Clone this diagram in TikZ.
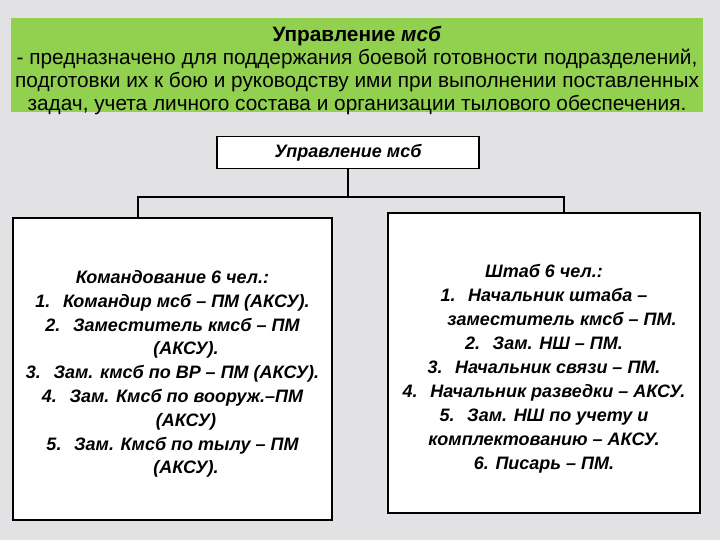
\documentclass[tikz,border=0pt]{standalone}
\usepackage{fontspec}
\setmainfont{Liberation Sans}
\usetikzlibrary{positioning}
\definecolor{HeadGreen}{RGB}{146, 208, 80}
\definecolor{MarbleBg}{RGB}{226, 226, 229}

\begin{document}
\begin{tikzpicture}[x=1pt, y=1pt, line width=1.6pt]
      % Background
      \fill[MarbleBg] (0,0) rectangle (720,-540);
      \useasboundingbox (0,0) rectangle (720,-540);

      % Nodes
      \node[fill=HeadGreen, minimum width=692pt, minimum height=94pt, inner sep=0pt, text depth=0pt, align=center, font=\fontsize{20.8}{23.2}\selectfont] (head) at (357,-65) {
        \rule{0pt}{22pt}\textbf{Управление \textit{мсб}}\\
        - предназначено для поддержания боевой готовности подразделений,\\
        подготовки их к бою и руководству ими при выполнении поставленных\\
        задач, учета личного состава и организации тылового обеспечения.
      };

      \node[draw, fill=white, minimum width=262pt, minimum height=32pt, inner sep=0pt, below=23pt of head, xshift=-9pt, font=\bfseries\itshape\fontsize{18}{20}\selectfont] (upr) {Управление мсб};

      \node[draw, fill=white, minimum width=319pt, minimum height=302pt, inner sep=0pt, align=center, font=\bfseries\itshape\fontsize{18}{23.8}\selectfont] (komand) at (172.5,-369) {
        \rule{0pt}{23pt}Командование 6 чел.:\\
        1.\hspace{0.7em}Командир мсб – ПМ (АКСУ).\\
        2.\hspace{0.7em}Заместитель кмсб – ПМ\\
        \hspace{1.5em}(АКСУ).\\
        3.\hspace{0.7em}Зам. кмсб по ВР – ПМ (АКСУ).\\
        4.\hspace{0.7em}Зам. Кмсб по вооруж.–ПМ\\
        \hspace{1.5em}(АКСУ)\\
        5.\hspace{0.7em}Зам. Кмсб по тылу – ПМ\\
        \hspace{1.5em}(АКСУ).
      };

      \node[draw, fill=white, minimum width=312pt, minimum height=300pt, inner sep=0pt, align=center, font=\bfseries\itshape\fontsize{18}{24}\selectfont] (shtab) at (544,-363) {
        \rule{0pt}{25pt}Штаб 6 чел.:\\
        1.\hspace{0.7em}Начальник штаба –\hspace{2.5em}\\
        \hspace{2em}заместитель кмсб – ПМ.\\
        2.\hspace{0.7em}Зам. НШ – ПМ.\\
        3.\hspace{0.7em}Начальник связи – ПМ.\\
        4.\hspace{0.7em}Начальник разведки – АКСУ.\\
        5.\hspace{0.7em}Зам. НШ по учету и\\
        комплектованию – АКСУ.\\
        6. Писарь – ПМ.
      };

      % Lines
      \coordinate (busL) at (138,-197);
      \coordinate (busR) at (564,-197);
      \draw (upr.south) -- (upr.south |- busL);
      \draw (busL |- komand.north) -- (busL) -- (busR) -- (busR |- shtab.north);
\end{tikzpicture}
\end{document}
